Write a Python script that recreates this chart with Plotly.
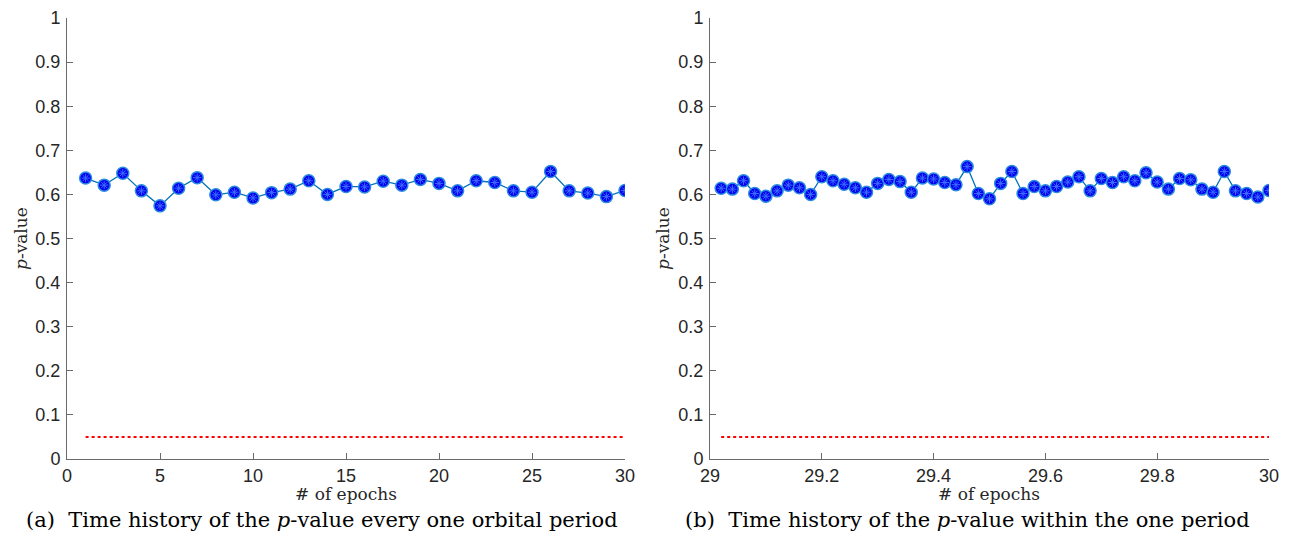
import plotly.graph_objects as go

# ---- data ----
epochs_a = list(range(1, 31))
pval_a = [0.637, 0.621, 0.648, 0.608, 0.574, 0.614, 0.638, 0.599, 0.605, 0.592,
          0.604, 0.612, 0.631, 0.600, 0.618, 0.617, 0.630, 0.621, 0.634, 0.625,
          0.608, 0.631, 0.627, 0.608, 0.605, 0.652, 0.608, 0.603, 0.595, 0.609]

epochs_b = [round(29.02 + 0.02 * i, 2) for i in range(50)]
pval_b = [0.614, 0.612, 0.631, 0.602, 0.596, 0.608, 0.621, 0.615, 0.600, 0.640,
          0.631, 0.623, 0.615, 0.605, 0.625, 0.634, 0.629, 0.605, 0.637, 0.635,
          0.627, 0.622, 0.663, 0.602, 0.590, 0.625, 0.652, 0.602, 0.618, 0.608,
          0.618, 0.628, 0.640, 0.608, 0.636, 0.627, 0.640, 0.631, 0.649, 0.628,
          0.612, 0.636, 0.633, 0.612, 0.605, 0.652, 0.608, 0.602, 0.594, 0.609]

alpha = 0.05
yticks = [0, 0.1, 0.2, 0.3, 0.4, 0.5, 0.6, 0.7, 0.8, 0.9, 1]
yticktext = ["0", "0.1", "0.2", "0.3", "0.4", "0.5", "0.6", "0.7", "0.8", "0.9", "1"]
xticks_a = [0, 5, 10, 15, 20, 25, 30]
xticks_b = [29, 29.2, 29.4, 29.6, 29.8, 30]
xticktext_b = ["29", "29.2", "29.4", "29.6", "29.8", "30"]

W, H = 1291, 549
LINE = "#0072BD"
FILL = "#0000F0"
AX = "#6a6a6a"
SERIF = "DejaVu Serif, Liberation Serif, serif"
SANS = "Liberation Sans, Arial, sans-serif"

fig = go.Figure()

def add_series(x, y, xa, ya):
    fig.add_trace(go.Scatter(
        x=x, y=y, xaxis=xa, yaxis=ya, mode="lines+markers",
        line=dict(color=LINE, width=1.3),
        marker=dict(symbol="circle", size=12, color=FILL,
                    line=dict(color="#2C8BE0", width=1.5)),
        showlegend=False, hoverinfo="x+y"))
    fig.add_trace(go.Scatter(
        x=x, y=y, xaxis=xa, yaxis=ya, mode="markers",
        marker=dict(symbol="asterisk-open", size=7, color="#3E6BFF",
                    line=dict(color="#3E6BFF", width=1)),
        showlegend=False, hoverinfo="skip"))
    fig.add_trace(go.Scatter(
        x=[x[0], x[-1]], y=[alpha, alpha], xaxis=xa, yaxis=ya, mode="lines",
        line=dict(color="#FF0000", width=2, dash="dot"),
        showlegend=False, hoverinfo="skip"))

add_series(epochs_a, pval_a, "x", "y")
add_series(epochs_b, pval_b, "x2", "y2")

common_x = dict(showgrid=False, zeroline=False, showline=True, linecolor=AX, linewidth=1,
                ticks="inside", ticklen=6, tickcolor=AX, mirror=False, automargin=False,
                tickfont=dict(family=SANS, size=18, color="#262626"))
common_y = dict(showgrid=False, zeroline=False, showline=True, linecolor=AX, linewidth=1,
                ticks="inside", ticklen=6, tickcolor=AX, range=[0, 1], automargin=False,
                tickvals=yticks, ticktext=yticktext, ticklabelstandoff=2,
                tickfont=dict(family=SANS, size=18, color="#262626"))

L1, R1 = 67 / W, 625 / W
L2, R2 = 710 / W, 1269 / W

fig.update_layout(
    template="none",
    width=W, height=H,
    margin=dict(l=0, r=0, t=18, b=90, pad=0),
    paper_bgcolor="white", plot_bgcolor="white",
    xaxis=dict(domain=[L1, R1], range=[0, 30], tickvals=xticks_a, anchor="y", **common_x),
    yaxis=dict(domain=[0, 1], anchor="x", **common_y),
    xaxis2=dict(domain=[L2, R2], range=[29, 30], tickvals=xticks_b, ticktext=xticktext_b,
                anchor="y2", **common_x),
    yaxis2=dict(domain=[0, 1], anchor="x2", **common_y),
)

plot_h = 459 - 18
def py(px):  # pixel y -> paper y
    return (459 - px) / plot_h

ann = []
for (l, r) in [(L1, R1), (L2, R2)]:
    ann.append(dict(x=(l + r) / 2, y=py(494), xref="paper", yref="paper",
                    text="# of epochs", showarrow=False,
                    font=dict(family=SERIF, size=17, color="#262626"),
                    xanchor="center", yanchor="middle"))
for xp in [21, 663]:
    ann.append(dict(x=xp / W, y=py(239), xref="paper", yref="paper",
                    text="<i>p</i>-value", showarrow=False, textangle=-90,
                    font=dict(family=SERIF, size=17, color="#262626"),
                    xanchor="center", yanchor="middle"))
ann.append(dict(x=322 / W, y=py(520), xref="paper", yref="paper",
                text="(a)  Time history of the <i>p</i>-value every one orbital period",
                showarrow=False, font=dict(family=SERIF, size=21, color="black"),
                xanchor="center", yanchor="middle"))
ann.append(dict(x=967 / W, y=py(520), xref="paper", yref="paper",
                text="(b)  Time history of the <i>p</i>-value within the one period",
                showarrow=False, font=dict(family=SERIF, size=21, color="black"),
                xanchor="center", yanchor="middle"))
fig.update_layout(annotations=ann)

fig.write_html("out.html")
